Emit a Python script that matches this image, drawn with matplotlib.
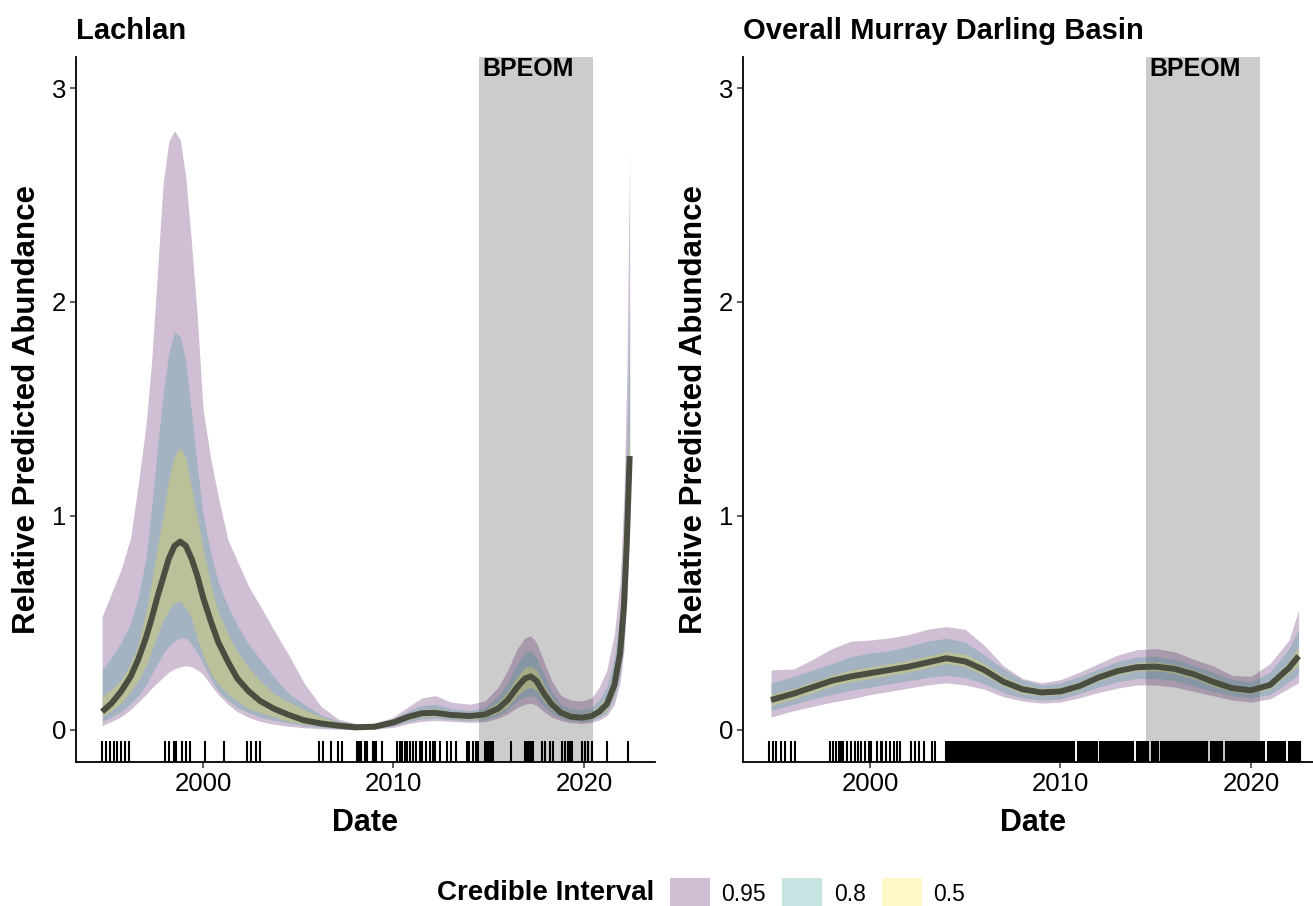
import numpy as np
import matplotlib
matplotlib.use("Agg")
import matplotlib.pyplot as plt
import matplotlib.transforms as mtransforms
from matplotlib.patches import Patch

plt.rcParams['font.family'] = ['Liberation Sans', 'DejaVu Sans']

# ---- Lachlan: posterior median and credible bands
lach_yr = [1994.7, 1995.2, 1995.7, 1996.2, 1996.6, 1997.0, 1997.3, 1997.6, 1997.9, 1998.2,
           1998.5, 1998.8, 1999.1, 1999.4, 1999.7, 2000.0, 2000.4, 2000.8, 2001.3, 2001.8,
           2002.4, 2003.0, 2003.7, 2004.5, 2005.3, 2006.2, 2007.1, 2008.0, 2009.0, 2010.0,
           2010.8, 2011.5, 2012.2, 2013.0, 2014.0, 2014.8, 2015.5, 2016.0, 2016.5, 2016.9,
           2017.2, 2017.5, 2017.9, 2018.3, 2018.8, 2019.3, 2019.9, 2020.4, 2020.8, 2021.2,
           2021.6, 2021.9, 2022.1, 2022.25, 2022.4]
lach_med = [0.085, 0.125, 0.18, 0.25, 0.33, 0.43, 0.52, 0.62, 0.71, 0.80,
            0.86, 0.88, 0.86, 0.80, 0.72, 0.62, 0.51, 0.41, 0.32, 0.24,
            0.18, 0.135, 0.10, 0.07, 0.045, 0.03, 0.02, 0.012, 0.015, 0.035,
            0.062, 0.078, 0.08, 0.07, 0.065, 0.072, 0.10, 0.14, 0.20, 0.24,
            0.25, 0.23, 0.17, 0.12, 0.08, 0.062, 0.057, 0.065, 0.085, 0.12,
            0.21, 0.36, 0.58, 0.88, 1.28]
lach_hi95 = [0.53, 0.64, 0.75, 0.90, 1.15, 1.42, 1.72, 2.13, 2.55, 2.75,
             2.80, 2.76, 2.58, 2.27, 1.93, 1.50, 1.27, 1.09, 0.89, 0.79,
             0.67, 0.58, 0.47, 0.35, 0.22, 0.11, 0.05, 0.03, 0.03, 0.06,
             0.11, 0.15, 0.16, 0.13, 0.12, 0.135, 0.20, 0.28, 0.38, 0.43,
             0.44, 0.41, 0.32, 0.23, 0.16, 0.14, 0.135, 0.15, 0.20, 0.28,
             0.45, 0.70, 1.10, 1.65, 2.70]
lach_hi80 = [0.28, 0.34, 0.41, 0.50, 0.62, 0.80, 1.04, 1.31, 1.57, 1.76,
             1.86, 1.84, 1.72, 1.48, 1.23, 1.01, 0.83, 0.69, 0.58, 0.49,
             0.40, 0.33, 0.25, 0.17, 0.12, 0.07, 0.04, 0.03, 0.025, 0.05,
             0.09, 0.115, 0.12, 0.10, 0.09, 0.105, 0.16, 0.22, 0.31, 0.36,
             0.37, 0.34, 0.26, 0.18, 0.12, 0.10, 0.095, 0.105, 0.14, 0.20,
             0.34, 0.55, 0.85, 1.30, 2.00]
lach_hi50 = [0.155, 0.19, 0.235, 0.31, 0.40, 0.55, 0.69, 0.85, 1.00, 1.17,
             1.28, 1.32, 1.27, 1.13, 0.99, 0.85, 0.68, 0.55, 0.45, 0.365,
             0.29, 0.23, 0.17, 0.13, 0.095, 0.06, 0.035, 0.02, 0.02, 0.04,
             0.075, 0.095, 0.10, 0.085, 0.08, 0.09, 0.13, 0.18, 0.25, 0.29,
             0.30, 0.28, 0.21, 0.15, 0.10, 0.08, 0.075, 0.085, 0.11, 0.16,
             0.27, 0.45, 0.70, 1.05, 1.45]
lach_lo50 = [0.06, 0.09, 0.125, 0.18, 0.23, 0.30, 0.37, 0.44, 0.51, 0.56,
             0.595, 0.60, 0.57, 0.52, 0.43, 0.35, 0.265, 0.215, 0.17, 0.135,
             0.10, 0.08, 0.063, 0.04, 0.027, 0.018, 0.01, 0.006, 0.01, 0.025,
             0.048, 0.062, 0.065, 0.056, 0.051, 0.056, 0.08, 0.11, 0.16, 0.19,
             0.20, 0.185, 0.135, 0.095, 0.065, 0.05, 0.045, 0.052, 0.068, 0.095,
             0.17, 0.29, 0.48, 0.75, 1.15]
lach_lo80 = [0.04, 0.06, 0.085, 0.125, 0.16, 0.21, 0.26, 0.31, 0.355, 0.39,
             0.415, 0.43, 0.43, 0.40, 0.36, 0.31, 0.24, 0.18, 0.14, 0.105,
             0.08, 0.06, 0.045, 0.033, 0.02, 0.012, 0.006, 0.003, 0.006, 0.02,
             0.04, 0.052, 0.055, 0.048, 0.043, 0.047, 0.068, 0.095, 0.135, 0.155,
             0.16, 0.15, 0.11, 0.078, 0.055, 0.043, 0.038, 0.044, 0.058, 0.082,
             0.15, 0.26, 0.43, 0.68, 1.05]
lach_lo95 = [0.02, 0.04, 0.062, 0.095, 0.13, 0.165, 0.195, 0.22, 0.245, 0.27,
             0.285, 0.295, 0.30, 0.295, 0.28, 0.26, 0.21, 0.165, 0.12, 0.085,
             0.058, 0.04, 0.027, 0.017, 0.01, 0.006, 0.003, 0.001, 0.003, 0.012,
             0.03, 0.04, 0.044, 0.04, 0.035, 0.038, 0.055, 0.075, 0.105, 0.12,
             0.125, 0.115, 0.085, 0.06, 0.043, 0.034, 0.03, 0.035, 0.046, 0.066,
             0.12, 0.22, 0.37, 0.60, 0.95]
lach_rug = [1994.7, 1994.9, 1995.1, 1995.3, 1995.5, 1995.7, 1995.9, 1996.1,
            1998.0, 1998.2, 1998.45, 1998.6, 1998.9, 1999.1, 1999.3,
            2000.1, 2001.1, 2002.3, 2002.5, 2002.8, 2003.0,
            2006.1, 2006.3, 2006.7, 2007.1, 2007.3,
            2008.1, 2008.15, 2008.2, 2008.3, 2008.5, 2008.6, 2008.9, 2009.0, 2009.1, 2009.4,
            2010.2, 2010.35, 2010.45, 2010.6, 2010.7, 2010.85, 2011.0, 2011.2, 2011.4, 2011.5,
            2011.7, 2011.9, 2012.05, 2012.2, 2012.44, 2012.8, 2013.0, 2013.3,
            2013.85, 2013.95, 2014.17, 2014.33, 2014.43, 2014.8, 2014.9, 2015.0, 2015.1, 2015.2,
            2016.17, 2016.9, 2017.0, 2017.1, 2017.2, 2017.35, 2017.8, 2017.95, 2018.2, 2018.37,
            2018.85, 2019.0, 2019.15, 2019.25, 2019.37, 2019.9, 2020.05, 2020.2, 2020.4,
            2021.2, 2022.3]

# ---- Overall Murray Darling Basin
mdb_yr = [1994.8, 1996, 1997, 1998, 1999, 2000, 2001, 2002, 2003, 2004,
          2005, 2006, 2007, 2008, 2009, 2010, 2011, 2012, 2013, 2014,
          2015, 2016, 2017, 2018, 2019, 2020, 2021, 2022, 2022.5]
mdb_med = [0.14, 0.17, 0.20, 0.23, 0.25, 0.265, 0.28, 0.295, 0.315, 0.335,
           0.32, 0.28, 0.225, 0.19, 0.175, 0.18, 0.205, 0.245, 0.275, 0.293,
           0.296, 0.285, 0.26, 0.225, 0.195, 0.185, 0.21, 0.29, 0.345]
mdb_hi95 = [0.28, 0.285, 0.33, 0.38, 0.415, 0.42, 0.43, 0.445, 0.47, 0.483,
            0.47, 0.395, 0.30, 0.24, 0.22, 0.235, 0.27, 0.31, 0.35, 0.375,
            0.38, 0.365, 0.33, 0.30, 0.255, 0.25, 0.31, 0.42, 0.56]
mdb_hi80 = [0.22, 0.25, 0.28, 0.31, 0.343, 0.36, 0.37, 0.39, 0.415, 0.428,
            0.41, 0.35, 0.285, 0.235, 0.21, 0.22, 0.25, 0.285, 0.32, 0.34,
            0.343, 0.33, 0.30, 0.27, 0.235, 0.225, 0.27, 0.38, 0.47]
mdb_hi50 = [0.165, 0.195, 0.225, 0.255, 0.28, 0.295, 0.31, 0.325, 0.345, 0.365,
            0.355, 0.31, 0.25, 0.21, 0.195, 0.20, 0.225, 0.265, 0.295, 0.315,
            0.318, 0.305, 0.28, 0.245, 0.21, 0.20, 0.23, 0.32, 0.39]
mdb_lo50 = [0.115, 0.145, 0.175, 0.205, 0.225, 0.24, 0.255, 0.27, 0.29, 0.31,
            0.295, 0.255, 0.205, 0.17, 0.16, 0.165, 0.19, 0.228, 0.258, 0.275,
            0.277, 0.265, 0.24, 0.205, 0.18, 0.17, 0.192, 0.265, 0.305]
mdb_lo80 = [0.09, 0.12, 0.145, 0.165, 0.185, 0.20, 0.215, 0.23, 0.245, 0.255,
            0.245, 0.215, 0.175, 0.15, 0.14, 0.145, 0.17, 0.20, 0.225, 0.24,
            0.24, 0.23, 0.205, 0.18, 0.16, 0.15, 0.165, 0.225, 0.26]
mdb_lo95 = [0.06, 0.09, 0.11, 0.13, 0.145, 0.165, 0.18, 0.195, 0.21, 0.22,
            0.21, 0.19, 0.155, 0.135, 0.125, 0.13, 0.15, 0.175, 0.195, 0.21,
            0.21, 0.20, 0.18, 0.16, 0.14, 0.13, 0.145, 0.195, 0.22]
mdb_rug = [1994.7, 1994.9, 1995.05, 1995.35, 1995.55, 1995.85, 1996.05,
           1997.9, 1998.05, 1998.2, 1998.35, 1998.5, 1998.6, 1998.8, 1999.0, 1999.2, 1999.35,
           1999.55, 1999.75, 1999.95, 2000.05, 2000.35, 2000.55, 2000.65, 2000.85, 2001.05,
           2001.25, 2001.4, 2001.55, 2002.15, 2002.35, 2002.55, 2002.85, 2003.25, 2003.4,
           2004.0, 2004.08, 2004.16, 2004.25, 2004.33, 2004.42, 2004.5, 2004.6, 2004.68, 2004.76,
           2004.85, 2004.95, 2005.03, 2005.12, 2005.2, 2005.3, 2005.38, 2005.46, 2005.55, 2005.65,
           2005.73, 2005.82, 2005.9, 2006.0, 2006.08, 2006.16, 2006.25, 2006.33, 2006.42, 2006.5,
           2006.6, 2006.68, 2006.76, 2006.85, 2006.95, 2007.03, 2007.12, 2007.2, 2007.3, 2007.38,
           2007.46, 2007.55, 2007.65, 2007.73, 2007.82, 2007.9,
           2008.0, 2008.1, 2008.2, 2008.3, 2008.4, 2008.5, 2008.6, 2008.7, 2008.8, 2008.9,
           2009.0, 2009.1, 2009.2, 2009.3, 2009.4, 2009.5, 2009.6, 2009.7, 2009.8, 2009.9,
           2010.0, 2010.1, 2010.2, 2010.3, 2010.4, 2010.5, 2010.6, 2010.7, 2010.9,
           2011.0, 2011.1, 2011.2, 2011.3, 2011.4, 2011.5, 2011.6, 2011.7, 2011.8, 2011.9,
           2012.1, 2012.2, 2012.3, 2012.4, 2012.5, 2012.6, 2012.7, 2012.8, 2012.9,
           2013.0, 2013.1, 2013.2, 2013.3, 2013.4, 2013.5, 2013.6, 2013.7, 2013.8,
           2014.0, 2014.1, 2014.2, 2014.3, 2014.4, 2014.5, 2014.6, 2014.8, 2014.9,
           2015.0, 2015.1, 2015.3, 2015.4, 2015.5, 2015.6, 2015.7, 2015.8, 2015.9,
           2016.0, 2016.1, 2016.2, 2016.3, 2016.4, 2016.5, 2016.6, 2016.7, 2016.8, 2016.9,
           2017.0, 2017.1, 2017.2, 2017.3, 2017.4, 2017.5, 2017.6, 2017.7, 2017.9,
           2018.0, 2018.1, 2018.2, 2018.3, 2018.4, 2018.5, 2018.7, 2018.8, 2018.9,
           2019.0, 2019.1, 2019.2, 2019.3, 2019.4, 2019.5, 2019.6, 2019.7, 2019.8, 2019.9,
           2020.0, 2020.1, 2020.2, 2020.3, 2020.4, 2020.5, 2020.6, 2020.7, 2020.9,
           2021.0, 2021.1, 2021.2, 2021.3, 2021.4, 2021.5, 2021.6, 2021.7, 2021.8,
           2022.0, 2022.1, 2022.2, 2022.3, 2022.4, 2022.5, 2022.6]

bpeom = (2014.5, 2020.5)
ci_labels = ['0.95', '0.8', '0.5']
ci_colors = ['#440154', '#21908C', '#FDE725']

panels = [
    ('Lachlan', lach_yr, lach_med, [(lach_lo95, lach_hi95), (lach_lo80, lach_hi80), (lach_lo50, lach_hi50)], lach_rug),
    ('Overall Murray Darling Basin', mdb_yr, mdb_med, [(mdb_lo95, mdb_hi95), (mdb_lo80, mdb_hi80), (mdb_lo50, mdb_hi50)], mdb_rug),
]

W, H = 1313, 906
fig = plt.figure(figsize=(W / 100, H / 100), dpi=100)
lefts = [76, 743]

for (title, yr, med, bands, rug), lx in zip(panels, lefts):
    ax = fig.add_axes([lx / W, (H - 762) / H, 579 / W, 705 / H])
    ax.set_xlim(1993.33, 2023.73)
    ax.set_ylim(-0.15, 3.145)
    ax.axvspan(bpeom[0], bpeom[1], color='#CCCCCC', lw=0, zorder=0)
    for (lo, hi), c in zip(bands, ci_colors):
        ax.fill_between(yr, lo, hi, color=c, alpha=0.25, lw=0, zorder=1)
    ax.plot(yr, med, color='#4A4E40', lw=4.3, solid_capstyle='butt',
            solid_joinstyle='round', zorder=2)
    trans = mtransforms.blended_transform_factory(ax.transData, ax.transAxes)
    ax.vlines(rug, 0, 0.03, transform=trans, color='black', lw=1.5, zorder=3)
    ax.text(bpeom[0] + 0.15, 1.0, 'BPEOM', transform=trans, ha='left', va='top',
            fontsize=18, fontweight='bold')

    ax.set_xticks([2000, 2010, 2020])
    ax.set_yticks([0, 1, 2, 3])
    ax.tick_params(labelsize=18.5, length=4, width=1.1, color='#333333', labelcolor='black', pad=3)
    for s in ['top', 'right']:
        ax.spines[s].set_visible(False)
    for s in ['left', 'bottom']:
        ax.spines[s].set_linewidth(1.3)
    ax.set_xlabel('Date', fontsize=22, fontweight='bold', labelpad=9)
    ax.set_ylabel('Relative Predicted Abundance', fontsize=22.5, fontweight='bold', labelpad=7)
    ax.set_title(title, loc='left', fontsize=21, fontweight='bold', pad=13)

# legend at the bottom
ly = 1 - 893 / H
fig.text(437 / W, ly, 'Credible Interval', fontsize=20, fontweight='bold', va='center', ha='left')
handles = [Patch(facecolor=c, alpha=0.25, lw=0) for c in ci_colors]
fig.legend(handles, ci_labels, loc='center left', bbox_to_anchor=(670 / W, ly), ncol=3,
           frameon=False, fontsize=16.5, handlelength=1.75, handleheight=1.6,
           handletextpad=0.5, columnspacing=0.7, borderpad=0, borderaxespad=0)

fig.savefig('out.png', dpi=100)
